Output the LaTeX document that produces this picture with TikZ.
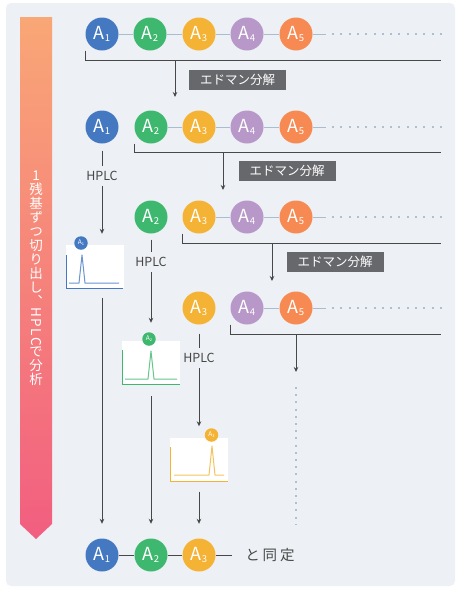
\documentclass[tikz,border=0pt]{standalone}
\usepackage{fontspec}
\usepackage{graphicx}
\setmainfont{Noto Sans CJK JP}
\newfontfamily\vertfont[RawFeature=+vert]{Noto Sans CJK JP}
\usepackage{tikz}
\usetikzlibrary{calc,arrows.meta}

\definecolor{bgc}{HTML}{EDF0F5}
\definecolor{aone}{HTML}{4479C1}
\definecolor{atwo}{HTML}{3FB86F}
\definecolor{athree}{HTML}{F5B335}
\definecolor{afour}{HTML}{B898C8}
\definecolor{afive}{HTML}{F68A52}
\definecolor{chainc}{HTML}{A8BDD0}
\definecolor{dotc}{HTML}{AFBFCE}
\definecolor{flowc}{HTML}{474747}
\definecolor{boxc}{HTML}{67686C}
\definecolor{bantop}{HTML}{F9A776}
\definecolor{banbot}{HTML}{F25E80}

\newcommand{\resA}[1]{A\raisebox{-2pt}{\fontsize{9.5}{9.5}\selectfont #1}}
\newcommand{\miniA}[1]{A\raisebox{-0.8pt}{\fontsize{4}{4}\selectfont #1}}

\tikzset{
  res/.style={circle, minimum size=33pt, inner sep=0pt, text=white, font=\fontsize{18}{18}\selectfont},
  mini/.style={circle, minimum size=13.5pt, inner sep=0pt, text=white, font=\fontsize{6.5}{6.5}\selectfont},
  chain/.style={draw=chainc, line width=0.9pt},
  dots/.style={draw=dotc, line width=2pt, dash pattern=on 2pt off 6.3pt},
  flow/.style={draw=flowc, line width=0.9pt},
  edbox/.style={fill=boxc, text=white, minimum width=97pt, minimum height=20pt, inner sep=0pt, font=\fontsize{12.5}{12.5}\selectfont},
  hplc/.style={text=flowc, inner sep=0pt, minimum height=20pt, font=\fontsize{12.5}{12.5}\selectfont},
  chartbox/.style={fill=white, minimum width=58pt, minimum height=43pt, inner sep=0pt},
  trace/.style={line width=1pt, line join=round},
  bantext/.style={text=white, align=center, inner sep=0pt, font=\vertfont\fontsize{13.5}{14}\selectfont}
}

\begin{document}
\begin{tikzpicture}[x=1pt, y=-1pt, >={Stealth[length=5pt,width=4.5pt]}]
  \useasboundingbox (0,0) rectangle (460,590);
  \fill[bgc, rounded corners=5pt] (6,3) rectangle (455,586);

  % banner
  \shade[top color=bantop, bottom color=banbot] (20,17) -- (52,17) -- (52,524) -- (36,539) -- (20,524) -- cycle;
  \node[bantext] (steps) at (36,278) {1\\残\\基\\ず\\つ\\切\\り\\出\\し\\、\\\rotatebox[origin=c]{-90}{H\hspace{1.5pt}P\hspace{1.5pt}L\hspace{1.5pt}C}\\で\\分\\析};

  % row 1
  \node[res, fill=aone] (r1a1) at (102,34) {\resA{1}};
  \node[res, fill=atwo] (r1a2) at (150,34) {\resA{2}};
  \node[res, fill=athree] (r1a3) at (199,34) {\resA{3}};
  \node[res, fill=afour] (r1a4) at (247,34) {\resA{4}};
  \node[res, fill=afive] (r1a5) at (296,34) {\resA{5}};
  \coordinate (r1e) at (326,34);
  \coordinate (r1d) at (442,34);
  \draw[chain] (r1a1) -- (r1a2) -- (r1a3) -- (r1a4) -- (r1a5) -- (r1e);
  \draw[dots] ([xshift=6pt]r1e) -- (r1d);
  \coordinate (r1r) at (441,60);
  \coordinate (r1k) at (175,60);
  \coordinate (r1t) at (175,97);
  \draw[flow] (r1a1.west |- r1a1.south) |- (r1r);
  \draw[flow, ->] (r1k) -- (r1t);
  \node[edbox] (ed1) at (237.5,80) {エドマン分解};

  % row 2
  \node[res, fill=aone] (r2a1) at (102,127) {\resA{1}};
  \node[res, fill=atwo] (r2a2) at (151,127) {\resA{2}};
  \node[res, fill=athree] (r2a3) at (199,127) {\resA{3}};
  \node[res, fill=afour] (r2a4) at (247,127) {\resA{4}};
  \node[res, fill=afive] (r2a5) at (296,127) {\resA{5}};
  \coordinate (r2e) at (326,127);
  \coordinate (r2d) at (442,127);
  \draw[chain] (r2a2) -- (r2a3) -- (r2a4) -- (r2a5) -- (r2e);
  \draw[dots] ([xshift=6pt]r2e) -- (r2d);
  \coordinate (r2r) at (441,152);
  \coordinate (r2k) at (223,152);
  \coordinate (r2t) at (223,190);
  \draw[flow] (r2a2.west |- r2a2.south) |- (r2r);
  \draw[flow, ->] (r2k) -- (r2t);
  \node[edbox] (ed2) at (287,171) {エドマン分解};

  % row 3
  \node[res, fill=atwo] (r3a2) at (151,217) {\resA{2}};
  \node[res, fill=athree] (r3a3) at (199,217) {\resA{3}};
  \node[res, fill=afour] (r3a4) at (247,217) {\resA{4}};
  \node[res, fill=afive] (r3a5) at (296,217) {\resA{5}};
  \coordinate (r3e) at (326,217);
  \coordinate (r3d) at (442,217);
  \draw[chain] (r3a3) -- (r3a4) -- (r3a5) -- (r3e);
  \draw[dots] ([xshift=6pt]r3e) -- (r3d);
  \coordinate (r3r) at (441,243);
  \coordinate (r3k) at (272,243);
  \coordinate (r3t) at (272,281);
  \draw[flow] (r3a3.west |- r3a3.south) |- (r3r);
  \draw[flow, ->] (r3k) -- (r3t);
  \node[edbox] (ed3) at (335,262) {エドマン分解};

  % row 4
  \node[res, fill=athree] (r4a3) at (199,308) {\resA{3}};
  \node[res, fill=afour] (r4a4) at (247,308) {\resA{4}};
  \node[res, fill=afive] (r4a5) at (296,308) {\resA{5}};
  \coordinate (r4e) at (326,308);
  \coordinate (r4d) at (442,308);
  \draw[chain] (r4a4) -- (r4a5) -- (r4e);
  \draw[dots] ([xshift=6pt]r4e) -- (r4d);
  \coordinate (r4r) at (441,334);
  \coordinate (r4k) at (296,334);
  \coordinate (r4t) at (296,372);
  \draw[flow] (r4a4.west |- r4a4.south) |- (r4r);
  \draw[flow, ->] (r4k) -- (r4t);
  \coordinate (r4v) at (296,387);
  \coordinate (r4w) at (296,525);
  \draw[dots, dash pattern=on 2pt off 5.2pt] (r4v) -- (r4w);

  % result row
  \node[res, fill=aone] (b1) at (102,555) {\resA{1}};
  \node[res, fill=atwo] (b2) at (151,555) {\resA{2}};
  \node[res, fill=athree] (b3) at (199,555) {\resA{3}};
  \coordinate (btail) at (232,555);
  \draw[flow] (b1) -- (b2) -- (b3) -- (btail);
  \node[text=flowc, font=\fontsize{14.5}{14.5}\selectfont] (ident) at (270,555) {と\hspace{3pt}同\hspace{3pt}定};

  % HPLC 1
  \node[hplc] (h1) at (102,176) {HPLC};
  \node[chartbox] (ch1) at (94.5,266.5) {};
  \draw[flow, shorten <=7pt] (r2a1) -- (h1);
  \draw[flow, ->, shorten >=11pt] (h1) -- (h1 |- ch1.north);
  \draw[aone, line width=1pt] (66,255) -- (66,288) -- (123,288);
  \draw[aone!80, trace] (69,283) -- (79,283) -- (82,255) -- (85,283) -- (119,283);
  \node[mini, fill=aone] (m1) at (81,243) {\miniA{1}};
  \draw[flow, ->, shorten <=10pt, shorten >=14.5pt] (ch1.south -| b1) -- (b1);

  % HPLC 2
  \node[hplc] (h2) at (151,262) {HPLC};
  \node[chartbox] (ch2) at (151,362.5) {};
  \draw[flow, shorten <=6pt] (r3a2) -- (h2);
  \draw[flow, ->, shorten >=18pt] (h2) -- (h2 |- ch2.north);
  \draw[atwo, line width=1pt] (122,350) -- (122,384) -- (180,384);
  \draw[atwo!80, trace] (125,379) -- (148,379) -- (151,351) -- (154,379) -- (177,379);
  \node[mini, fill=atwo] (m2) at (149,339) {\miniA{2}};
  \draw[flow, ->, shorten <=12pt, shorten >=14.5pt] (ch2.south -| b2) -- (b2);

  % HPLC 3
  \node[hplc] (h3) at (199,358) {HPLC};
  \node[chartbox] (ch3) at (199,459) {};
  \draw[flow, shorten <=9pt] (r4a3) -- (h3);
  \draw[flow, ->, shorten >=11pt] (h3) -- (h3 |- ch3.north);
  \draw[athree, line width=1pt] (170,447) -- (170,481) -- (228,481);
  \draw[athree!80, trace] (174,475) -- (209,475) -- (212,446) -- (215,475) -- (224,475);
  \node[mini, fill=athree] (m3) at (211.5,435) {\miniA{3}};
  \draw[flow, ->, shorten <=11pt, shorten >=14.5pt] (ch3.south -| b3) -- (b3);
\end{tikzpicture}
\end{document}
